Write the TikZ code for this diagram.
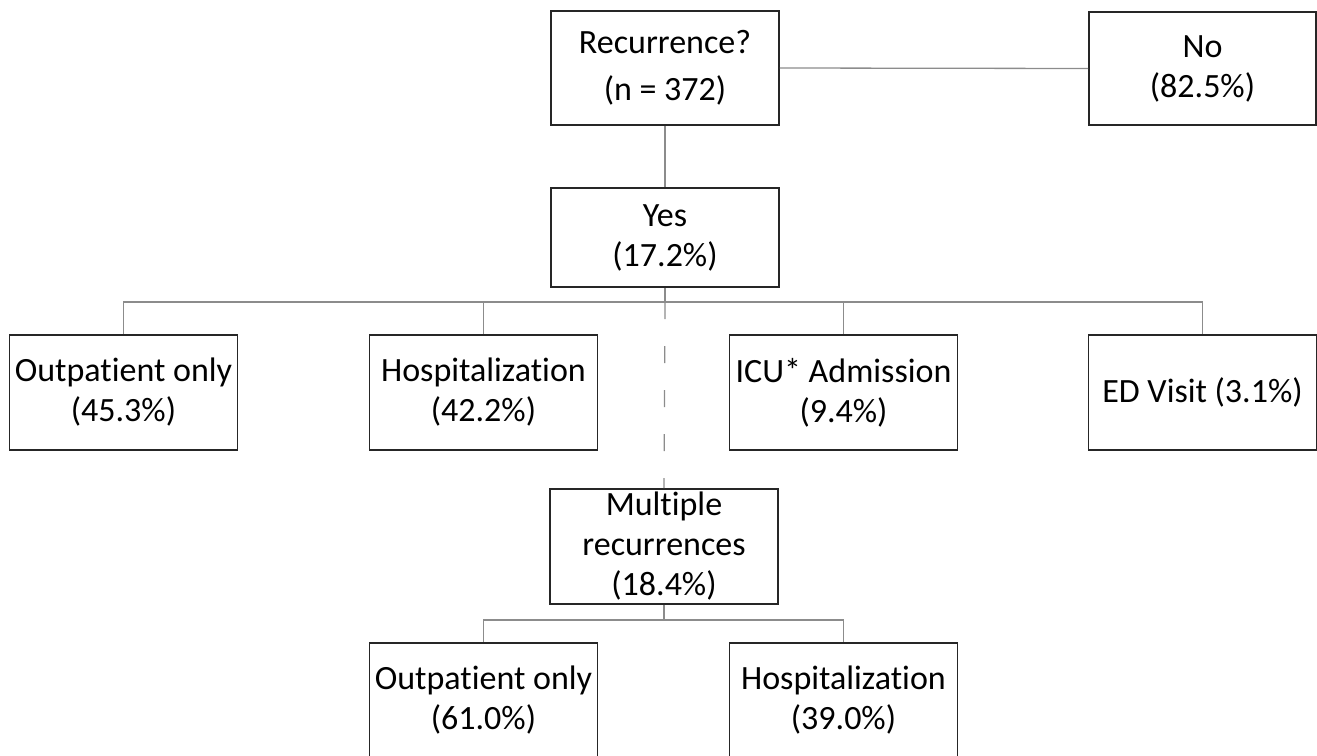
\documentclass[tikz,border=0pt]{standalone}
\usepackage{fontspec}
\setmainfont{Carlito}[Ligatures=NoCommon]
\usetikzlibrary{positioning}
\definecolor{linegray}{HTML}{8C8C8C}
\definecolor{boxline}{HTML}{262626}

\begin{document}
\begin{tikzpicture}[x=1pt,y=-1pt,line cap=butt,
  box/.style={draw=boxline,line width=1.8pt,minimum width=228pt,minimum height=115pt,
    align=center,inner sep=0pt,font=\fontsize{34}{40}\selectfont},
  link/.style={draw=linegray,line width=1.3pt}]
\useasboundingbox (0,0) rectangle (1317,755);
% top row
\node[box,minimum height=114pt] (rec) at (665,68) {Recurrence?\\[7pt](n = 372)};
\node[box,minimum width=227pt,minimum height=113pt] (no) at (1202.5,68.5) {No\\(82.5\%)};
\node[box,minimum height=99pt] (yes) at (665,237.5) {Yes\\(17.2\%)};
% first recurrence
\node[box] (outp) at (123.5,392.5) {Outpatient only\\(45.3\%)};
\node[box] (hosp) at (483.5,392.5) {Hospitalization\\(42.2\%)};
\node[box] (icu) at (843.5,392.5) {ICU* Admission\\(9.4\%)};
\node[box] (ed) at (1202.5,392.5) {ED Visit (3.1\%)};
% multiple recurrences
\node[box] (multi) at (664,546.5) {Multiple\\recurrences\\(18.4\%)};
\node[box] (outptwo) at (483.5,700.5) {Outpatient only\\(61.0\%)};
\node[box] (hosptwo) at (843.5,700.5) {Hospitalization\\(39.0\%)};

\coordinate (bar) at (yes.south |- 0,302);
\coordinate (bartwo) at (multi.south |- 0,620);

\draw[link] (rec.east) -- (no.west);
\draw[link] (rec.south) -- (yes.north);
\draw[link] (yes.south) -- (bar);
\draw[link] (outp.north) |- (bar) -| (ed.north);
\foreach \n in {hosp,icu}
\draw[link] (\n.north) -- (\n.north |- bar);
\draw[link,dash pattern=on 17pt off 27pt] (bar) -- (multi.north);
\draw[link] (multi.south) -- (bartwo);
\draw[link] (outptwo.north) |- (bartwo) -| (hosptwo.north);
\end{tikzpicture}
\end{document}
